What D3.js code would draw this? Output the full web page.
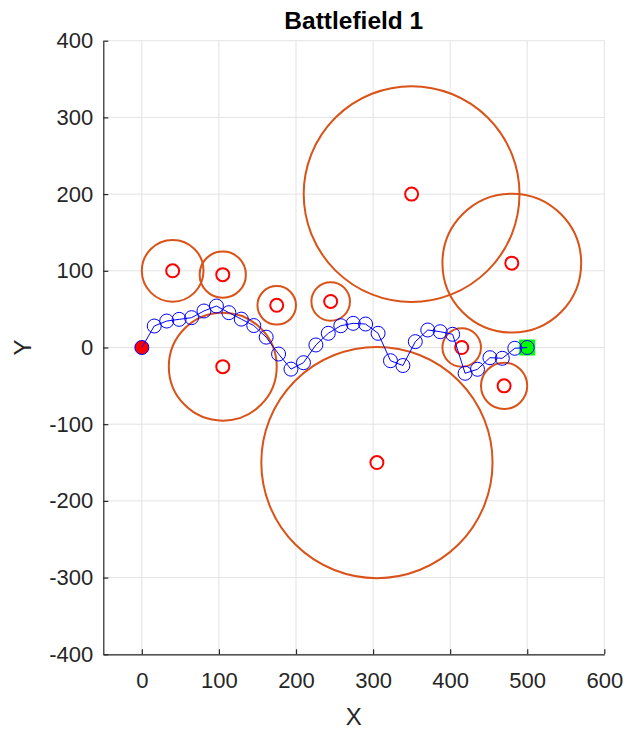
<!DOCTYPE html>
<html>
<head>
<meta charset="utf-8">
<script src="https://cdn.jsdelivr.net/npm/d3@7"></script>
<style>
  html, body { margin: 0; padding: 0; background: #fff; }
  svg { display: block; font-family: "Liberation Sans", Arial, Helvetica, sans-serif; }
</style>
</head>
<body>
<svg id="chart" width="627" height="731"></svg>
<script>
// Obstacles: centre coordinates and radius
const obstacleX = [40, 105, 175, 105, 245, 350, 480, 305, 415, 470];
const obstacleY = [100, 95, 55, -25, 60, 200, 110, -150, 0, -50];
const obstacleR = [40, 30, 25, 70, 25, 140, 90, 150, 25, 30];

// Planned path waypoints
const pathX = [0, 16.1, 32.3, 48.4, 64.5, 80.6, 96.8, 112.9, 129, 145.2, 161.3, 177.4, 193.5,
  209.7, 225.8, 241.9, 258.1, 274.2, 290.3, 306.5, 322.6, 338.7, 354.8, 371, 387.1,
  403.2, 419.4, 435.5, 451.6, 467.7, 483.9, 500];
const pathY = [0, 28, 34.5, 36.7, 38.9, 47.6, 54.1, 45.4, 37, 28.6, 13.5, -8.5, -28.2,
  -19.8, 3.3, 18.5, 28.4, 31.5, 30.6, 18.5, -17.2, -23.5, 7.6, 22.8, 20.6,
  17.2, -33.6, -28.4, -13.3, -14.1, -1, 0];

// Start and goal
const startPt = [0, 0];
const goalPt = [500, 0];

// Axis ticks
const xTicks = [0, 100, 200, 300, 400, 500, 600];
const yTicks = [-400, -300, -200, -100, 0, 100, 200, 300, 400];

const svg = d3.select("#chart");
const plotL = 103.3, plotR = 604.3, plotT = 40.7, plotB = 654.3;
const x = d3.scaleLinear().domain([-50, 600]).range([plotL, plotR]);
const y = d3.scaleLinear().domain([-400, 400]).range([plotB, plotT]);
const pxPerUnit = (plotR - plotL) / 650;

const axisColor = "#262626";
const fmt = d => String(d);

// grid
const grid = svg.append("g");
grid.selectAll(".gx").data(xTicks).join("line")
  .attr("x1", d => x(d)).attr("x2", d => x(d))
  .attr("y1", plotT).attr("y2", plotB)
  .attr("stroke", "#e3e3e3").attr("stroke-width", 1);
grid.selectAll(".gy").data(yTicks).join("line")
  .attr("x1", plotL).attr("x2", plotR)
  .attr("y1", d => y(d)).attr("y2", d => y(d))
  .attr("stroke", "#e3e3e3").attr("stroke-width", 1);

// axes
const xAxis = d3.axisBottom(x).tickValues(xTicks).tickFormat(fmt)
  .tickSizeInner(-5).tickSizeOuter(0).tickPadding(18);
const yAxis = d3.axisLeft(y).tickValues(yTicks).tickFormat(fmt)
  .tickSizeInner(-5).tickSizeOuter(0).tickPadding(10);
const gx = svg.append("g").attr("transform", `translate(0,${plotB})`).call(xAxis);
const gy = svg.append("g").attr("transform", `translate(${plotL},0)`).call(yAxis);
[gx, gy].forEach(g => {
  g.select(".domain").attr("stroke", axisColor).attr("stroke-width", 1.2);
  g.selectAll(".tick line").attr("stroke", axisColor).attr("stroke-width", 1.2);
  g.selectAll(".tick text").attr("fill", axisColor)
    .style("font-size", "22px").style("font-family", "Liberation Sans, Arial, sans-serif");
});
gx.selectAll(".tick text").attr("dy", "0.71em");

// obstacles
const obstacles = obstacleX.map((d, i) => ({ cx: d, cy: obstacleY[i], r: obstacleR[i] }));
svg.append("g").selectAll("circle").data(obstacles).join("circle")
  .attr("cx", d => x(d.cx)).attr("cy", d => y(d.cy))
  .attr("r", d => d.r * pxPerUnit)
  .attr("fill", "none").attr("stroke", "#D95319").attr("stroke-width", 2);
svg.append("g").selectAll("circle").data(obstacles).join("circle")
  .attr("cx", d => x(d.cx)).attr("cy", d => y(d.cy))
  .attr("r", 6.5)
  .attr("fill", "none").attr("stroke", "#ff0000").attr("stroke-width", 2);

// goal square
const sq = 15;
svg.append("rect")
  .attr("x", x(goalPt[0]) - sq / 2).attr("y", y(goalPt[1]) - sq / 2)
  .attr("width", sq).attr("height", sq)
  .attr("fill", "#00ff00").attr("stroke", "#00ff00");

// start marker
svg.append("circle")
  .attr("cx", x(startPt[0])).attr("cy", y(startPt[1])).attr("r", 7)
  .attr("fill", "#ff0000").attr("stroke", "#0000ff").attr("stroke-width", 1);

// path
const path = pathX.map((d, i) => [d, pathY[i]]);
const line = d3.line().x(d => x(d[0])).y(d => y(d[1]));
svg.append("path").datum(path)
  .attr("d", line).attr("fill", "none").attr("stroke", "#0000ff").attr("stroke-width", 1);
svg.append("g").selectAll("circle").data(path.slice(1)).join("circle")
  .attr("cx", d => x(d[0])).attr("cy", d => y(d[1])).attr("r", 7)
  .attr("fill", "none").attr("stroke", "#0000ff").attr("stroke-width", 1);

// title and labels
svg.append("text").attr("x", (plotL + plotR) / 2).attr("y", 29)
  .attr("text-anchor", "middle").attr("fill", "#000")
  .style("font-size", "24.5px").style("font-weight", "bold")
  .text("Battlefield 1");
svg.append("text").attr("x", (plotL + plotR) / 2).attr("y", 725)
  .attr("text-anchor", "middle").attr("fill", axisColor)
  .style("font-size", "24px").text("X");
svg.append("text").attr("transform", `translate(31,${(plotT + plotB) / 2}) rotate(-90)`)
  .attr("text-anchor", "middle").attr("fill", axisColor)
  .style("font-size", "24px").text("Y");
</script>
</body>
</html>
